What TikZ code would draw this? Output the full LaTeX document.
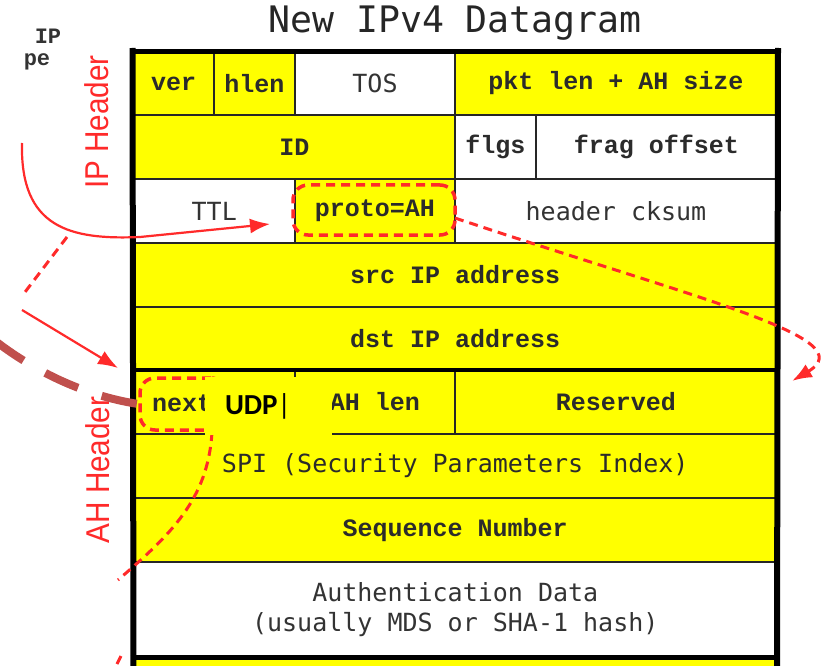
\documentclass[tikz,border=0pt]{standalone}
\usepackage{fontspec}
\usetikzlibrary{arrows.meta}
\newfontfamily\courfont{Liberation Mono}
\newfontfamily\consfont{DejaVu Sans Mono}
\newfontfamily\calibfont{Carlito}
\newfontfamily\labfont{Liberation Sans}
\definecolor{hdryellow}{HTML}{FFFF00}
\definecolor{annred}{HTML}{FF2A2A}
\definecolor{brickred}{HTML}{C0504D}
\definecolor{celltext}{HTML}{2B2B2B}
\definecolor{softtext}{HTML}{333333}
\tikzset{
  cell/.style={draw=black!85, line width=2pt, inner sep=0pt, text=celltext,
    font=\courfont\bfseries\fontsize{25}{25}\selectfont},
  yel/.style={cell, fill=hdryellow},
  wht/.style={cell, fill=white},
  soft/.style={font=\consfont\fontsize{25}{30}\selectfont, text=softtext},
  sidelabel/.style={text=annred, font=\labfont\fontsize{33}{33}\selectfont, rotate=90, inner sep=0pt},
  redsolid/.style={draw=annred, line width=2.2pt},
  reddash/.style={draw=annred, line width=3pt, dash pattern=on 9pt off 6pt},
  ring/.style={draw=annred, line width=3.5pt, dash pattern=on 9pt off 6pt, rounded corners=15pt, inner sep=0pt},
  bigtip/.style={-{Latex[length=20pt,width=15pt]}},
}
\begin{document}
\begin{tikzpicture}[x=1pt,y=-1pt]
\useasboundingbox (0,0) rectangle (825,666);
\clip (0,0) rectangle (825,666);

% title and truncated side text
\node[anchor=base, font=\consfont\fontsize{36.5}{36.5}\selectfont, text=black!85] (title) at (455,33) {New IPv4 Datagram};
\node[font=\courfont\bfseries\fontsize{22}{22}\selectfont, text=softtext] (iptxt) at (48,36) {IP};
\node[font=\courfont\bfseries\fontsize{22}{22}\selectfont, text=softtext] (petxt) at (37,62) {pe};

% row 1
\node[yel, minimum width=80.5pt, minimum height=63pt] (ver) at (173.75,83.5) {ver};
\node[yel, minimum width=81pt, minimum height=63pt] (hlen) at (254.5,83.5) {hlen};
\node[wht, minimum width=160pt, minimum height=63pt, soft] (tos) at (375,83.5) {TOS};
\node[yel, minimum width=322pt, minimum height=63pt] (pkt) at (616,83.5) {pkt len + AH size};
% row 2
\node[yel, minimum width=321.5pt, minimum height=64pt] (id) at (294.25,147) {ID};
\node[wht, minimum width=81pt, minimum height=64pt] (flgs) at (495.5,147) {flgs};
\node[wht, minimum width=241pt, minimum height=64pt] (frag) at (656.5,147) {frag offset};
% row 3
\node[wht, minimum width=161.5pt, minimum height=64pt, soft] (ttl) at (214.25,211) {TTL};
\node[yel, minimum width=160pt, minimum height=64pt] (proto) at (375,211) {proto=AH};
\node[wht, minimum width=322pt, minimum height=64pt, soft] (cksum) at (616,211) {header cksum};
% rows 4-5
\node[yel, minimum width=643.5pt, minimum height=64pt] (src) at (455.25,275) {src IP address};
\node[yel, minimum width=643.5pt, minimum height=63pt] (dst) at (455.25,338.5) {dst IP address};
% row 6 (AH header starts)
\node[yel, minimum width=161.5pt, minimum height=64pt] (nextcell) at (214.25,402) {};
\node[anchor=west, inner sep=0pt, text=celltext, font=\courfont\bfseries\fontsize{25}{25}\selectfont] (nexttxt) at (152,403) {next};
\node[yel, minimum width=160pt, minimum height=64pt] (ahlen) at (375,402) {AH len};
\node[yel, minimum width=322pt, minimum height=64pt] (resv) at (616,402) {Reserved};
% rows 7-10
\node[yel, minimum width=643.5pt, minimum height=64pt, soft, text=celltext] (spi) at (455.25,466) {SPI (Security Parameters Index)};
\node[yel, minimum width=643.5pt, minimum height=64pt] (seq) at (455.25,530) {Sequence Number};
\node[wht, minimum width=643.5pt, minimum height=95pt, soft, align=center] (auth) at (455.25,609.5) {Authentication Data\\(usually MDS or SHA-1 hash)};
\node[yel, minimum width=643.5pt, minimum height=30pt] (payload) at (455.25,672) {};

% heavy frame lines
\draw[line width=6pt] (ver.north west) ++(0,-3) -- (133.5,680);
\draw[line width=6pt] (pkt.north east) ++(0,-3) -- (777,680);
\draw[line width=5pt] (130.5,52) -- (780,52);
\draw[line width=4.5pt] (130.5,370) -- (780,370);
\draw[line width=5pt] (130.5,657) -- (780,657);

% side labels
\node[sidelabel] (iphdr) at (97,122) {\scalebox{0.9}[1]{IP Header}};
\node[sidelabel] (ahhdr) at (98,470) {\scalebox{0.9}[1]{AH Header}};

% highlight rings
\node[ring, minimum width=162pt, minimum height=50pt] (protoring) at (374,210) {};
\node[ring, minimum width=86pt, minimum height=52pt] (nextring) at (183,404) {};

% annotation arrows
\coordinate (a1s) at (22,143);
\coordinate (a1e) at (270,224);
\draw[redsolid, bigtip] (a1s) .. controls (20,228) and (70,240) .. (140,237) -- (a1e);
\coordinate (b1s) at (67,237);
\coordinate (b1m) at (22,296);
\coordinate (b2s) at (22,310);
\coordinate (b2e) at (118,368);
\draw[reddash] (b1s) -- (b1m);
\draw[redsolid, bigtip] (b2s) -- (b2e);
\coordinate (c1s) at (455,218);
\coordinate (c1e) at (792,381);
\draw[reddash, bigtip] (c1s) .. controls (700,300) and (865,338) .. (c1e);
\coordinate (d1s) at (212,432);
\coordinate (d1e) at (118,580);
\draw[reddash] (d1s) .. controls (208,500) and (170,535) .. (d1e);
\coordinate (d2s) at (121,656);
\coordinate (d2e) at (115,668);
\draw[reddash] (d2s) -- (d2e);

% typed-over value
\node[fill=hdryellow, minimum width=127pt, minimum height=58pt, inner sep=0pt] (udpbox) at (268.5,406) {};
\node[font=\calibfont\bfseries\fontsize{29}{29}\selectfont, text=black, inner sep=0pt] (udp) at (258,406) {UDP\textmd{|}};

% thick pointer towards the next-header field
\coordinate (e1s) at (-6,340);
\draw[brickred, line width=8pt, dash pattern=on 36pt off 25pt] (e1s) .. controls (30,368) and (80,395) .. (nextring.west);
\end{tikzpicture}
\end{document}
